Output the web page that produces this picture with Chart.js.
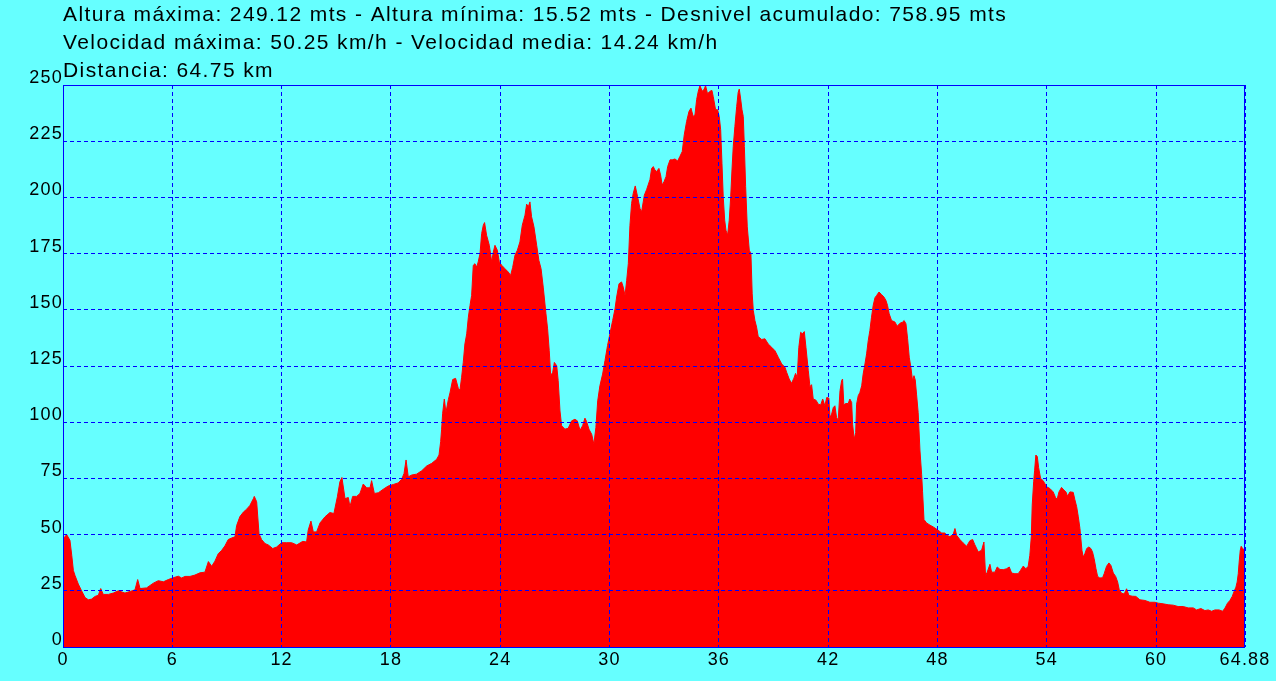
<!DOCTYPE html>
<html>
<head>
<meta charset="utf-8">
<title>Perfil de altura</title>
<script src="https://cdn.jsdelivr.net/npm/chart.js@4.4.0/dist/chart.umd.min.js"></script>
<style>
  html, body { margin: 0; padding: 0; background: #66ffff; }
  canvas { display: block; }
</style>
</head>
<body>
<canvas id="profileChart" width="1276" height="681"></canvas>
<script>
// Header lines shown above the plot
const titleLines = [
    'Altura máxima: 249.12 mts - Altura mínima: 15.52 mts - Desnivel acumulado: 758.95 mts',
    'Velocidad máxima: 50.25 km/h - Velocidad media: 14.24 km/h',
    'Distancia: 64.75 km'
];

// Distance along the track (km)
const distanceKm = [
    0, 0.05, 0.2, 0.38, 0.48, 0.57, 0.66, 0.84, 1.02, 1.21, 1.39, 1.57, 1.76, 1.94, 2.07, 2.21, 2.49, 2.76,
    3.04, 3.40, 3.68, 3.95, 4.10, 4.23, 4.59, 4.96, 5.23, 5.51, 5.78, 6.05, 6.33, 6.51, 6.70, 6.97, 7.24,
    7.52, 7.79, 7.98, 8.16, 8.34, 8.52, 8.71, 8.89, 9.07, 9.26, 9.44, 9.53, 9.71, 9.90, 10.08, 10.26, 10.45,
    10.50, 10.63, 10.76, 10.90, 11.09, 11.27, 11.51, 11.73, 12.00, 12.28, 12.55, 12.83, 13.16, 13.37, 13.46,
    13.61, 13.74, 13.92, 14.11, 14.38, 14.65, 14.87, 15.06, 15.20, 15.31, 15.48, 15.66, 15.75, 15.90, 16.12,
    16.30, 16.48, 16.67, 16.85, 16.94, 17.09, 17.31, 17.58, 17.85, 18.13, 18.40, 18.59, 18.72, 18.83, 18.95,
    19.14, 19.41, 19.69, 19.96, 20.24, 20.51, 20.64, 20.73, 20.78, 20.84, 20.93, 21.02, 21.15, 21.24, 21.39,
    21.55, 21.70, 21.79, 21.88, 21.97, 22.06, 22.16, 22.25, 22.34, 22.43, 22.52, 22.61, 22.71, 22.79, 22.89,
    22.98, 23.07, 23.14, 23.25, 23.40, 23.53, 23.62, 23.71, 23.84, 23.95, 24.08, 24.26, 24.44, 24.57, 24.68,
    24.81, 24.94, 25.08, 25.21, 25.36, 25.45, 25.54, 25.63, 25.72, 25.85, 26.00, 26.12, 26.24, 26.36, 26.51,
    26.60, 26.69, 26.77, 26.88, 26.97, 27.10, 27.18, 27.28, 27.37, 27.55, 27.73, 27.92, 28.10, 28.23, 28.38,
    28.52, 28.65, 28.74, 28.87, 29.02, 29.14, 29.25, 29.35, 29.47, 29.62, 29.75, 29.89, 30.02, 30.17, 30.30,
    30.39, 30.52, 30.66, 30.75, 30.85, 30.94, 31.03, 31.12, 31.21, 31.30, 31.41, 31.54, 31.67, 31.76, 31.91,
    32.04, 32.22, 32.31, 32.40, 32.49, 32.58, 32.71, 32.80, 32.89, 32.99, 33.10, 33.19, 33.32, 33.44, 33.59,
    33.74, 33.86, 33.99, 34.10, 34.23, 34.36, 34.47, 34.59, 34.69, 34.78, 34.87, 34.96, 35.09, 35.20, 35.27,
    35.38, 35.51, 35.62, 35.69, 35.82, 35.93, 36.02, 36.10, 36.17, 36.24, 36.32, 36.39, 36.48, 36.57, 36.65,
    36.72, 36.79, 36.88, 36.98, 37.06, 37.12, 37.19, 37.27, 37.34, 37.40, 37.47, 37.56, 37.67, 37.76, 37.83,
    37.89, 37.98, 38.07, 38.16, 38.35, 38.53, 38.71, 38.90, 39.08, 39.26, 39.45, 39.63, 39.72, 39.86, 39.99,
    40.12, 40.21, 40.30, 40.39, 40.49, 40.58, 40.69, 40.78, 40.91, 41.00, 41.09, 41.18, 41.33, 41.46, 41.59,
    41.70, 41.82, 41.92, 42.04, 42.10, 42.19, 42.28, 42.37, 42.46, 42.55, 42.65, 42.74, 42.79, 42.86, 42.96,
    43.10, 43.19, 43.29, 43.34, 43.43, 43.51, 43.56, 43.65, 43.74, 43.84, 43.92, 44.02, 44.11, 44.20, 44.29,
    44.38, 44.47, 44.57, 44.66, 44.79, 44.93, 45.06, 45.17, 45.26, 45.35, 45.48, 45.66, 45.79, 45.94, 46.08,
    46.17, 46.27, 46.36, 46.45, 46.54, 46.63, 46.71, 46.78, 46.85, 46.94, 47.04, 47.13, 47.18, 47.26, 47.40,
    47.59, 47.77, 47.99, 48.23, 48.41, 48.50, 48.68, 48.86, 48.96, 49.05, 49.23, 49.41, 49.60, 49.78, 49.93,
    50.05, 50.24, 50.42, 50.55, 50.64, 50.73, 50.88, 50.97, 51.15, 51.28, 51.43, 51.61, 51.79, 51.94, 52.07,
    52.25, 52.43, 52.56, 52.71, 52.85, 52.98, 53.07, 53.15, 53.20, 53.28, 53.33, 53.40, 53.48, 53.55, 53.66,
    53.80, 53.99, 54.17, 54.35, 54.48, 54.57, 54.67, 54.81, 54.94, 55.05, 55.14, 55.27, 55.45, 55.54, 55.64,
    55.73, 55.82, 55.93, 56.00, 56.09, 56.19, 56.31, 56.42, 56.51, 56.60, 56.70, 56.79, 56.91, 57.06, 57.15,
    57.28, 57.41, 57.52, 57.65, 57.78, 57.89, 57.98, 58.11, 58.25, 58.38, 58.51, 58.69, 58.89, 59.11, 59.39,
    59.66, 59.93, 60.12, 60.39, 60.66, 60.94, 61.21, 61.49, 61.76, 62.04, 62.22, 62.46, 62.68, 62.86, 63.05,
    63.23, 63.46, 63.65, 63.78, 63.92, 64.05, 64.18, 64.29, 64.38, 64.45, 64.51, 64.56, 64.62, 64.67, 64.75,
    64.88
];

// Altitude at each distance (m)
const altitudeM = [
    48, 48, 50, 47.5, 40.8, 34, 31.8, 28, 25, 22, 21, 21.3, 22.5, 23, 26, 23.4, 23.4, 24,
    25, 24, 24.7, 25.4, 30, 26, 26.3, 28.4, 29.5, 29, 30, 30.8, 31.5, 30.7, 31.4, 31.4, 32,
    33, 33.3, 38, 35.9, 38.2, 41.5, 43, 45, 47.8, 48.5, 49, 54, 58, 60, 61.3, 63, 66,
    67, 64.6, 50.4, 47.8, 46, 45.4, 43.8, 44.5, 46.4, 46.4, 46.4, 45.4, 47, 46.7, 52,
    56, 51.2, 51.2, 55.2, 57.9, 59.8, 59.4, 66.8, 73.5, 75.4, 66, 66.5, 62.4, 67, 67,
    68.3, 72.5, 70.8, 70.8, 74, 68.3, 68.6, 70.2, 71.6, 72.3, 73, 74.6, 77.2, 83.2, 75.7,
    76.5, 76.9, 78.4, 80.5, 81.7, 83.5, 85.4, 91.4, 96.6, 104, 110.3, 104.3, 110, 113, 119,
    119.5, 115, 114.3, 120, 126.6, 134.8, 139.3, 146.7, 151.9, 156.4, 169.8, 170.5, 169, 171.3, 175,
    183.9, 187.6, 188.8, 183.2, 178.7, 171.3, 175.7, 178.7, 176.5, 171.3, 169.8, 168.3, 166.8, 165.3, 168.8,
    174.3, 176.5, 180.2, 187.6, 192.1, 197, 195.8, 198, 191.4, 186.9, 178.7, 172, 168.3, 160.1, 148.2,
    141.5, 131.8, 120.7, 122.2, 126.6, 125.1, 118.5, 105, 98.4, 96.9, 97.3, 100.6, 101.3, 100.6, 96.4,
    98.4, 101.8, 100.3, 96.9, 94.6, 90.2, 97.6, 109.5, 116.2, 121.4, 127.4, 134.1, 139.3, 145.2, 150.4,
    155.7, 161.6, 162.4, 160.1, 156.4, 163.1, 170.5, 187.6, 197.3, 201.8, 205.1, 200.3, 195.1, 193.6, 201,
    203.6, 208, 212.9, 213.7, 212.2, 211.5, 212.9, 210, 205.5, 207, 209.2, 213.7, 216.7, 216.7, 217.1,
    216.2, 218.2, 220.4, 227.8, 233.8, 238.2, 239.7, 236, 236.8, 243.5, 247.2, 249.7, 247.2, 248.2, 249.7,
    246.1, 247.2, 247.6, 244.9, 239, 239, 236, 230.1, 215.2, 200.3, 189.9, 185.4, 183.2, 189.9, 200.3,
    212.2, 222.6, 231.5, 240.5, 246.7, 248.2, 244.2, 239, 236, 222.6, 204.8, 186.9, 176.5, 175, 157.1,
    149.7, 145.2, 142.3, 138.1, 136.8, 137.1, 134.8, 133.3, 131.8, 128.9, 125.9, 124.4, 122.2, 119.2, 117.3,
    119.6, 121.7, 119.9, 133.3, 140, 139.3, 140.3, 133.3, 122.9, 115.8, 116.7, 110.3, 109.8, 108, 107.7,
    110.3, 107.3, 111, 110.7, 102.1, 103.6, 106.5, 107.3, 102.1, 100.9, 114, 118.5, 119.2, 107.7, 108.3,
    108.3, 110.3, 108.8, 99.1, 92.4, 95.4, 108, 111.8, 113.2, 116.2, 121.4, 125.9, 130.4, 136.3, 140.8,
    146.7, 151.9, 155.4, 156.4, 157.9, 156.8, 155.7, 154.2, 151.9, 148.2, 145.2, 144.6, 142.7, 144, 144.5,
    145.2, 143.8, 137.1, 128.9, 124.4, 118.5, 120.7, 118.8, 112.5, 104.3, 87.2, 76.8, 69.3, 56.7, 55.2,
    54.2, 53.4, 52.2, 50.7, 50.7, 49.7, 49.1, 50, 52.7, 49.7, 47.8, 46.3, 44.8, 47.3, 47.8,
    45.5, 42.3, 43, 46.7, 31.8, 33.3, 36.8, 33.3, 33.3, 35.6, 34.5, 34.4, 34.8, 35.6, 32.9,
    32.6, 32.6, 34.1, 36, 34.8, 35.9, 40.8, 49, 63.1, 73.5, 78.4, 85.4, 84.7, 79.9, 75,
    74, 71.3, 70.5, 69, 66.5, 65.8, 69, 71, 69.8, 69, 67.1, 69, 68.8, 65.6, 62.4,
    57.9, 52.7, 43, 40, 41.5, 43.8, 44.5, 43.8, 42.3, 39.3, 34.8, 31.4, 30.7, 30.8, 32.6,
    35.9, 37.4, 36.3, 32.9, 31.4, 28.9, 25.4, 23.9, 23.6, 25.9, 22.9, 22.6, 22.5, 21, 20.7,
    19.9, 19.9, 19.5, 19.2, 18.8, 18.6, 18, 18, 17.4, 17.4, 16.5, 17.1, 16.2, 16.5, 15.9,
    16.5, 16.5, 15.9, 17.3, 19.5, 20.7, 22.5, 24.9, 26.6, 28.9, 32.6, 37.8, 43, 44.8, 43.8,
    43
];

// Axis ticks
const xTickValues = [0, 6, 12, 18, 24, 30, 36, 42, 48, 54, 60, 64.88];
const yTickStep = 25;
const yMax = 250;

// Slightly wider text spacing, like the original bitmap font
const textSpacing = {
    id: 'textSpacing',
    beforeDraw(chart) {
        chart.ctx.letterSpacing = '1.2px';
    }
};

// Draws the three header lines above the plot area
const headerText = {
    id: 'headerText',
    afterDraw(chart) {
        const ctx = chart.ctx;
        ctx.save();
        ctx.fillStyle = '#000000';
        ctx.font = '21px "Liberation Sans", Arial, sans-serif';
        ctx.letterSpacing = '1.4px';
        ctx.textAlign = 'left';
        ctx.textBaseline = 'alphabetic';
        titleLines.forEach((line, i) => {
            ctx.fillText(line, chart.chartArea.left, 21 + i * 28);
        });
        ctx.restore();
    }
};

// Solid blue frame around the plot area
const plotFrame = {
    id: 'plotFrame',
    afterDraw(chart) {
        const { left, top, right, bottom } = chart.chartArea;
        const ctx = chart.ctx;
        ctx.save();
        ctx.strokeStyle = '#0000ff';
        ctx.lineWidth = 1;
        ctx.strokeRect(left + 0.5, top + 0.5, right - left - 1, bottom - top);
        ctx.restore();
    }
};

Chart.defaults.font.family = '"Liberation Sans", Arial, sans-serif';
Chart.defaults.font.size = 18;
Chart.defaults.color = '#000000';

const ctx = document.getElementById('profileChart').getContext('2d');
const profileChart = new Chart(ctx, {
    type: 'line',
    data: {
        datasets: [{
            label: 'Altura',
            data: distanceKm.map((d, i) => ({ x: d, y: altitudeM[i] })),
            backgroundColor: '#ff0000',
            borderColor: '#ff0000',
            borderWidth: 1,
            pointRadius: 0,
            tension: 0,
            fill: 'origin'
        }]
    },
    plugins: [textSpacing, headerText, plotFrame],
    options: {
        responsive: false,
        animation: false,
        layout: {
            padding: { top: 85, right: 31, left: 0, bottom: 0 }
        },
        plugins: {
            legend: { display: false },
            tooltip: { enabled: false }
        },
        scales: {
            x: {
                type: 'linear',
                min: 0,
                max: 64.88,
                afterBuildTicks: scale => {
                    scale.ticks = xTickValues.map(v => ({ value: v }));
                },
                afterFit: scale => { scale.height = 34; },
                ticks: {
                    autoSkip: false,
                    maxRotation: 0,
                    padding: 2,
                    callback: value => String(value)
                },
                grid: { color: '#0000ff', lineWidth: 1, drawTicks: false, z: 1 },
                border: { display: false, dash: [4, 3] }
            },
            y: {
                min: 0,
                max: yMax,
                afterFit: scale => { scale.width = 63; },
                ticks: {
                    stepSize: yTickStep,
                    padding: 0,
                    labelOffset: -7
                },
                grid: { color: '#0000ff', lineWidth: 1, drawTicks: false, z: 1 },
                border: { display: false, dash: [4, 3] }
            }
        }
    }
});
</script>
</body>
</html>
